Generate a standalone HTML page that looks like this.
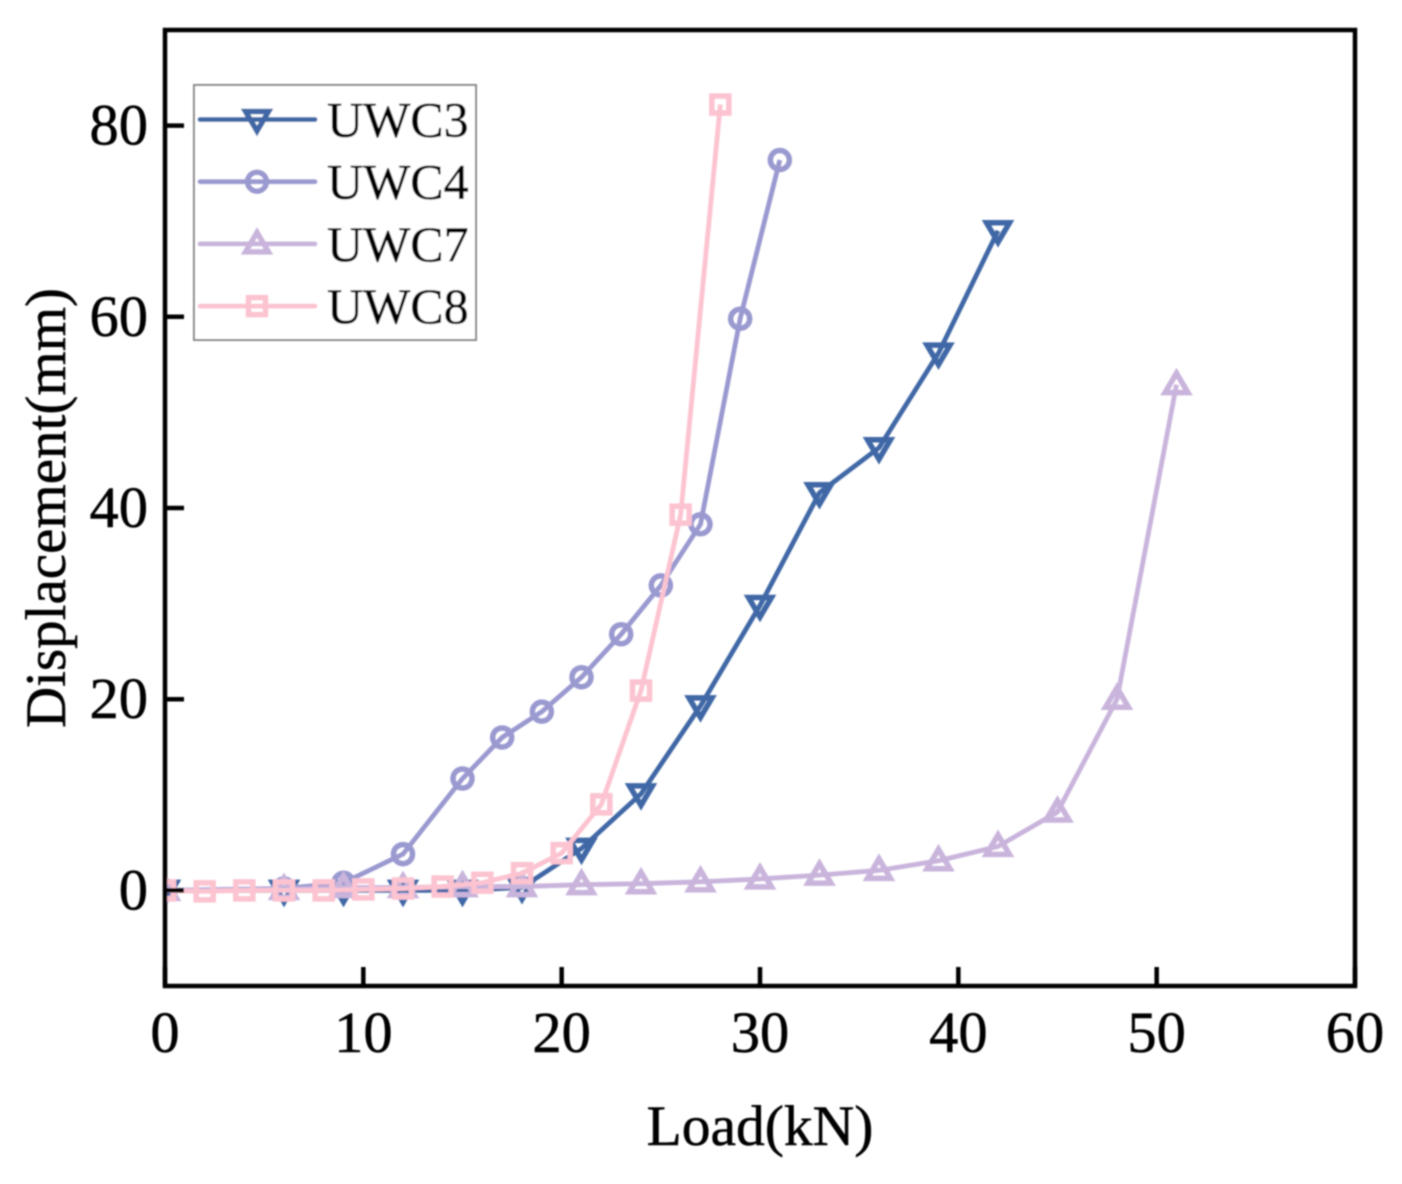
<!DOCTYPE html>
<html lang="en">
<head>
<meta charset="utf-8">
<title>Load vs Displacement</title>
<style>
html,body{margin:0;padding:0;background:#fff;width:1402px;height:1184px;overflow:hidden}
svg{display:block;position:absolute;left:0;top:0}
text{font-family:"Liberation Serif",serif;fill:#000;stroke:#000;stroke-width:0.5}
</style>
</head>
<body>
<svg id="chart" width="1402" height="1184" viewBox="0 0 1402 1184" xmlns="http://www.w3.org/2000/svg">
<defs>
<filter id="soft" x="-5%" y="-5%" width="110%" height="110%"><feGaussianBlur stdDeviation="0.8"/></filter>
<clipPath id="plot-clip"><rect x="165" y="30" width="1190" height="956"/></clipPath>
</defs>
<g id="root" filter="url(#soft)"></g>
</svg>
<script>
const xTicks = [0, 10, 20, 30, 40, 50, 60];
const yTicks = [0, 20, 40, 60, 80];
const xDomain = [0, 60];
const yDomain = [-10, 90];
const xTitle = "Load(kN)";
const yTitle = "Displacement(mm)";

const uwc3Load = [0, 6, 9, 12, 15, 18, 21, 24, 27, 30, 33, 36, 39, 42];
const uwc3Disp = [0, 0, 0, 0, 0, 0.3, 4.4, 10.1, 19.3, 29.8, 41.6, 46.3, 56.2, 69];
const uwc4Load = [0, 6, 9, 12, 15, 17, 19, 21, 23, 25, 27, 29, 31];
const uwc4Disp = [0, 0.2, 0.8, 3.8, 11.7, 16, 18.7, 22.3, 26.8, 31.9, 38.3, 59.8, 76.4];
const uwc7Load = [0, 6, 9, 12, 15, 18, 21, 24, 27, 30, 33, 36, 39, 42, 45, 48, 51];
const uwc7Disp = [0, 0.1, 0.3, 0.3, 0.4, 0.4, 0.6, 0.7, 0.9, 1.2, 1.6, 2.1, 3.1, 4.6, 8.2, 20, 52.9];
const uwc8Load = [0, 2, 4, 6, 8, 10, 12, 14, 16, 18, 20, 22, 24, 26, 28];
const uwc8Disp = [0, -0.1, 0, 0, 0, 0.1, 0.2, 0.4, 0.8, 1.8, 3.9, 9, 20.9, 39.3, 82.2];

const seriesNames = ["UWC3", "UWC4", "UWC7", "UWC8"];
const seriesLoads = [uwc3Load, uwc4Load, uwc7Load, uwc8Load];
const seriesDisps = [uwc3Disp, uwc4Disp, uwc7Disp, uwc8Disp];
const seriesColors = ["#3f68a6", "#9a99d0", "#c9b4dc", "#fcc3d0"];
const seriesMarkers = ["tri-down", "circle", "tri-up", "square"];

const plot = {left: 165, right: 1355, top: 30, bottom: 986};
const NS = "http://www.w3.org/2000/svg";
const root = document.getElementById("root");

function xScale(v) {
  return plot.left + (v - xDomain[0]) / (xDomain[1] - xDomain[0]) * (plot.right - plot.left);
}
function yScale(v) {
  return plot.bottom - (v - yDomain[0]) / (yDomain[1] - yDomain[0]) * (plot.bottom - plot.top);
}
function make(tag, attrs, parent) {
  const el = document.createElementNS(NS, tag);
  for (const k in attrs) el.setAttribute(k, attrs[k]);
  (parent || root).appendChild(el);
  return el;
}
function drawMarker(kind, cx, cy, color, parent) {
  const common = {fill: "none", stroke: color, "stroke-width": 5.5};
  let el;
  if (kind === "circle") {
    el = make("circle", Object.assign({cx: cx, cy: cy, r: 9.5}, common), parent);
  } else if (kind === "square") {
    el = make("rect", Object.assign({x: cx - 8.5, y: cy - 8.5, width: 17, height: 17}, common), parent);
  } else if (kind === "tri-up") {
    el = make("polygon", Object.assign({points: (cx - 11.5) + "," + (cy + 8) + " " + (cx + 11.5) + "," + (cy + 8) + " " + cx + "," + (cy - 11.5)}, common), parent);
  } else {
    el = make("polygon", Object.assign({points: (cx - 11.5) + "," + (cy - 8) + " " + (cx + 11.5) + "," + (cy - 8) + " " + cx + "," + (cy + 11.5)}, common), parent);
  }
  
  
  return el;
}

// series
seriesNames.forEach(function (name, s) {
  const g = make("g", {"clip-path": "url(#plot-clip)"});
  
  
  const pts = seriesLoads[s].map(function (x, i) { return xScale(x) + "," + yScale(seriesDisps[s][i]); }).join(" ");
  make("polyline", {points: pts, fill: "none", stroke: seriesColors[s], "stroke-width": 4.8, "stroke-linejoin": "round"}, g);
  seriesLoads[s].forEach(function (x, i) {
    drawMarker(seriesMarkers[s], xScale(x), yScale(seriesDisps[s][i]), seriesColors[s], g);
  });
});

// frame
const frame = make("rect", {x: plot.left, y: plot.top, width: plot.right - plot.left, height: plot.bottom - plot.top, fill: "none", stroke: "#000", "stroke-width": 4.5});



// x axis
xTicks.forEach(function (t) {
  const px = xScale(t);
  const tick = make("line", {x1: px, x2: px, y1: plot.bottom, y2: plot.bottom - 19, stroke: "#000", "stroke-width": 4.5});
  
  
  const label = make("text", {x: px, y: 1052, "font-size": 58.5, "text-anchor": "middle"});
  label.textContent = t;
  
  
});

// y axis
yTicks.forEach(function (t) {
  const py = yScale(t);
  const tick = make("line", {x1: plot.left, x2: plot.left + 19, y1: py, y2: py, stroke: "#000", "stroke-width": 4.5});
  
  
  const label = make("text", {x: 148, y: py + 19, "font-size": 58.5, "text-anchor": "end"});
  label.textContent = t;
  
  
});

// axis titles
const xt = make("text", {x: 760, y: 1145, "font-size": 57.5, "text-anchor": "middle"});
xt.textContent = xTitle;


const yt = make("text", {x: 0, y: 0, "font-size": 57, "text-anchor": "middle", transform: "translate(65 508) rotate(-90)"});
yt.textContent = yTitle;



// legend
const legend = make("g", {});


const legendBox = make("rect", {x: 194, y: 85, width: 282, height: 255, fill: "#fff", stroke: "#888", "stroke-width": 2}, legend);


seriesNames.forEach(function (name, s) {
  const rowY = 119.5 + s * 62.2;
  const row = make("g", {}, legend);
  
  
  make("line", {x1: 200, x2: 315, y1: rowY, y2: rowY, stroke: seriesColors[s], "stroke-width": 4.8, "stroke-linecap": "round"}, row);
  drawMarker(seriesMarkers[s], 257, rowY, seriesColors[s], row);
  const label = make("text", {x: 327, y: rowY + 17, "font-size": 50}, row);
  label.textContent = name;
  
  
});
</script>
</body>
</html>
